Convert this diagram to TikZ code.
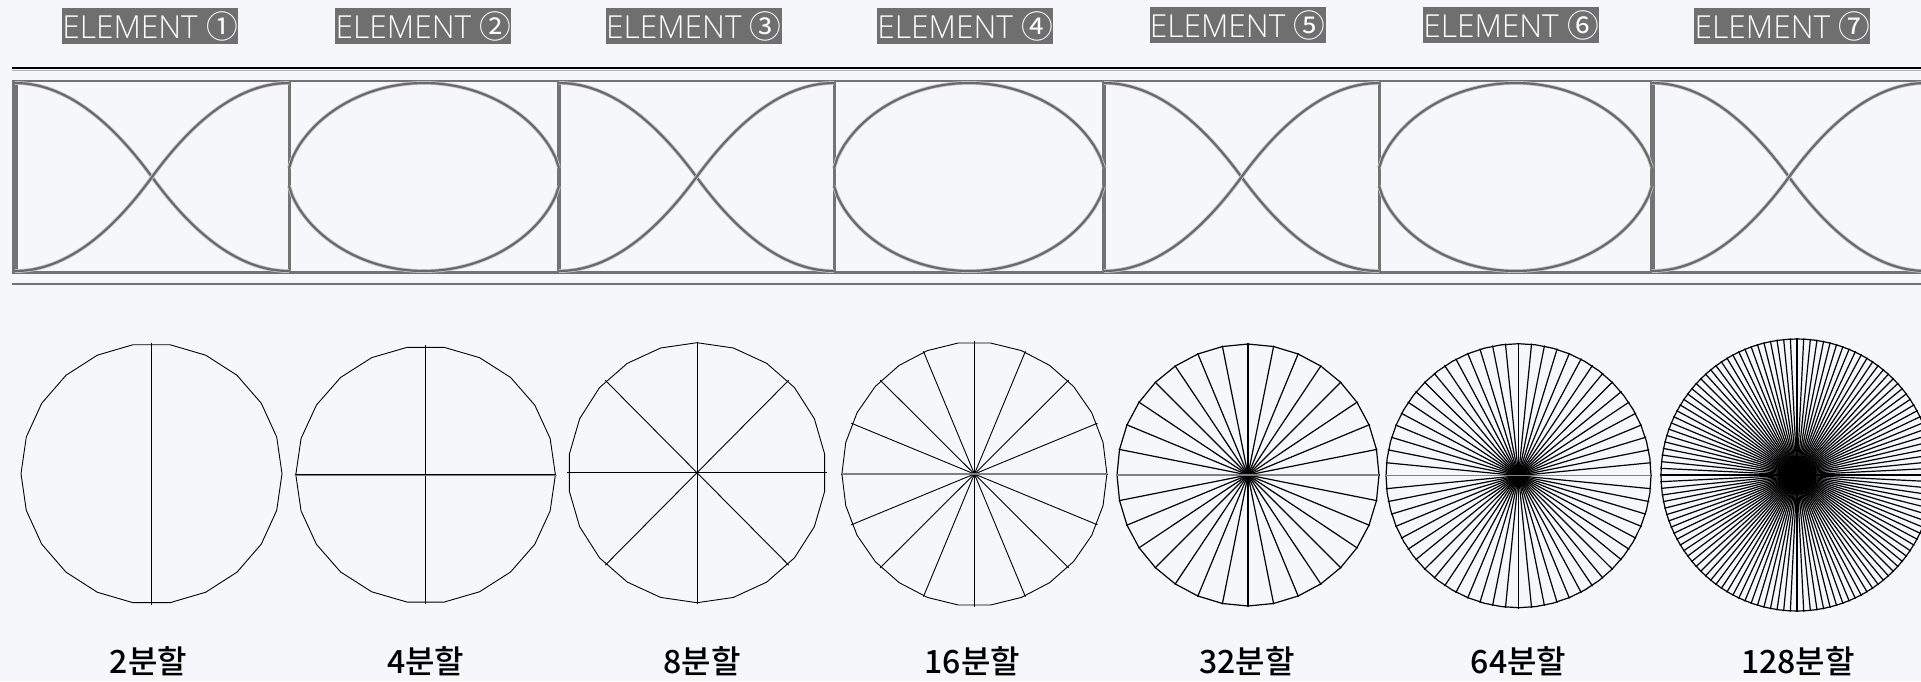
\documentclass[tikz,border=0pt]{standalone}
\usepackage{fontspec}
\newfontfamily\krfont{Noto Sans CJK KR}
\newfontfamily\krmedium{Noto Sans CJK KR Medium}
\newfontfamily\tagfont{Open Sans Light}
\usetikzlibrary{positioning}
\definecolor{PageBg}{RGB}{245,247,251}
\definecolor{TagGray}{RGB}{111,111,111}
\definecolor{BandGray}{RGB}{115,115,115}
\tikzset{
  tag/.style={fill=TagGray,text=white,inner sep=0pt,minimum width=176pt,
    minimum height=36pt,font=\fontsize{31.7}{32}\selectfont\tagfont},
  caption/.style={inner sep=0pt,minimum height=36pt,
    font=\fontsize{32}{32}\selectfont\krmedium},
  rail/.style={BandGray,line width=2.6pt},
  wave/.style={black!65,line width=2.2pt,opacity=.85,
    preaction={draw,black!22,line width=3.8pt}},
  axisline/.style={black!50,line width=1.5pt},
  declare function={
    crosswave(\u)=(\u<0)*(1-(1+\u)*(1+\u))+(\u>=0)*((1-\u)*(1-\u)-1);
    eyewave(\u)=pow(1-.98*\u*\u,.6);
  }
}
\begin{document}
\begin{tikzpicture}[x=1pt,y=-1pt]

\fill[PageBg] (0,0) rectangle (1921,681);
\useasboundingbox (0,0) rectangle (1921,681);

\node[tag] (e1) at (150,26) {ELEMENT {\krfont ①}};
\node[tag,right=97pt of e1] (e2) {ELEMENT {\krfont ②}};
\node[tag,right=94pt of e2] (e3) {ELEMENT {\krfont ③}};
\node[tag,right=95pt of e3] (e4) {ELEMENT {\krfont ④}};
\node[tag,right=96pt of e4,yshift=1pt] (e5) {ELEMENT {\krfont ⑤}};
\node[tag,right=97pt of e5] (e6) {ELEMENT {\krfont ⑥}};
\node[tag,right=95pt of e6,yshift=-1pt] (e7) {ELEMENT {\krfont ⑦}};

\coordinate (c1) at (151.5,473.7);
\coordinate (c2) at (425.6,474.7);
\coordinate (c3) at (697,472.7);
\coordinate (c4) at (974.4,474);
\coordinate (c5) at (1248,475);
\coordinate (c6) at (1518.5,475.7);
\coordinate (c7) at (1797,475);

% band
\begin{scope}
\clip (0,0) rectangle (1921,681);
\draw[black,line width=2.6pt] (12,68) -- (1921,68);
\draw[black!30,line width=1pt] (12,70.5) -- (1921,70.5);
\draw[rail] (12,81) -- (1921,81);
\draw[rail,line width=3pt] (12,272) -- (1921,272);
\draw[rail,line width=1.8pt] (12,284) -- (1921,284);
\foreach \xa/\w in {15/6,289/3,559/4,834/3,1104/4,1379/3,1652/5}
  \draw[rail,line width=\w pt] (\xa,81) -- (\xa,272);
\foreach \xa/\xb in {15/289,559/834,1104/1379,1652/1926}{
  \draw[wave] plot[domain=-1:1,samples=81] ({(\xa+\xb)/2+(\xb-\xa)/2*\x},{177-94*crosswave(\x)});
  \draw[wave] plot[domain=-1:1,samples=81] ({(\xa+\xb)/2+(\xb-\xa)/2*\x},{177+94*crosswave(\x)});
}
\foreach \xa/\xb in {289/559,834/1104,1379/1652}{
  \draw[wave] plot[domain=-1:1,samples=81] ({(\xa+\xb)/2+(\xb-\xa)/2*\x},{177-94*eyewave(\x)});
  \draw[wave] plot[domain=-1:1,samples=81] ({(\xa+\xb)/2+(\xb-\xa)/2*\x},{177+94*eyewave(\x)});
}

% circles
\foreach \i/\rx/\ry/\parts/\sides/\turn/\lw in {1/130.5/130.3/2/22/0/0.9,2/129.8/128.7/4/22/0/0.9,
    3/129/130/8/22/8.18/0.9,4/132.5/132/16/26/0/0.9,5/131/131/32/32/0/1.2,
    6/132.5/132/64/48/0/1.2,7/136/136/128/96/0/1.2}{
  \begin{scope}[shift={(c\i)},line width=\lw pt]
    \draw plot[domain=0:360,samples=\sides+1]
      ({\rx*cos(\x+\turn)},{\ry*sin(\x+\turn)}) -- cycle;
    \pgfmathtruncatemacro{\half}{\parts/2}
    \foreach \k in {1,...,\half}{
      \pgfmathsetmacro{\ang}{90+(\k-1)*(360/\parts)}
      \draw ({-(\rx+.8)*cos(\ang)},{-(\ry+.8)*sin(\ang)}) -- ({(\rx+.8)*cos(\ang)},{(\ry+.8)*sin(\ang)});
    }
  \end{scope}
}
\draw[axisline] (295,475.7) -- (557,475.7);
\draw[axisline] (841.6,474) -- (1107,474);
\draw[axisline] (1116,475) -- (1379,475);
\draw[axisline] (1385,475.7) -- (1651,475.7);
\draw[axisline,black] (1661,475) -- (1921,475);
\end{scope}

\node[caption,below=169pt of c1,xshift=-3pt] (t1) {2분할};
\node[caption,below=168pt of c2] (t2) {4분할};
\node[caption,below=170pt of c3,xshift=5pt] (t3) {8분할};
\node[caption,below=169pt of c4,xshift=-2pt] (t4) {16분할};
\node[caption,below=168pt of c5,xshift=-1pt] (t5) {32분할};
\node[caption,below=167pt of c6] (t6) {64분할};
\node[caption,below=168pt of c7,xshift=1pt] (t7) {128분할};

\end{tikzpicture}
\end{document}
